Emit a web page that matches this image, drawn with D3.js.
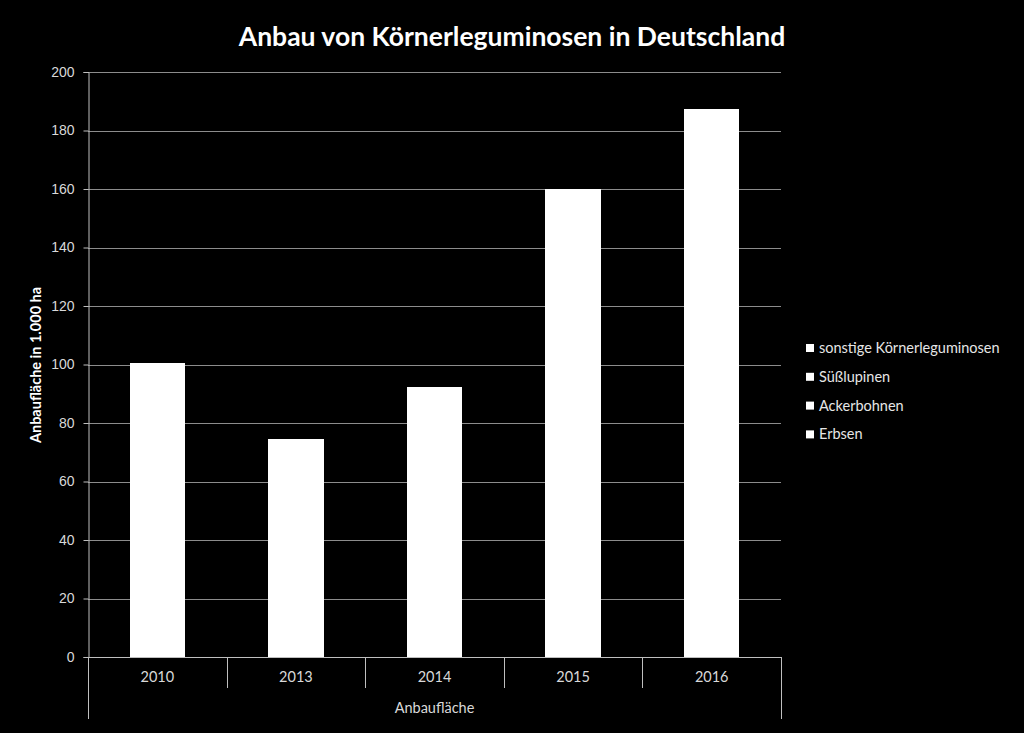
<!DOCTYPE html>
<html><head><meta charset="utf-8">
<script src="https://cdn.jsdelivr.net/npm/d3@7"></script>
<style>html,body{margin:0;padding:0;background:#000;}svg{display:block;font-family:Lato,"Open Sans",sans-serif;}</style>
</head><body>
<script>
const years = ["2010","2013","2014","2015","2016"];
const seriesNames = ["Erbsen","Ackerbohnen","Süßlupinen","sonstige Körnerleguminosen"];
const erbsen = [57.4, 37.6, 44.3, 78.2, 93.4];
const ackerbohnen = [16.6, 16.6, 20.9, 37.9, 45.9];
const suesslupinen = [22.1, 17.4, 22.5, 26.0, 31.0];
const sonstige = [4.4, 2.9, 4.6, 18.0, 16.9];
const yTicks = [0,20,40,60,80,100,120,140,160,180,200];
const legendOrder = ["sonstige Körnerleguminosen","Süßlupinen","Ackerbohnen","Erbsen"];

const W=1024,H=733;
const svg=d3.select("body").append("svg").attr("width",W).attr("height",H);
svg.append("rect").attr("width",W).attr("height",H).attr("fill","#000");

const L=88,R=781,T=72,B=657;
const x=d3.scaleBand().domain(years).range([L,R]).paddingInner(0.6).paddingOuter(0.3);
const y=d3.scaleLinear().domain([0,200]).range([B,T]);

const table=years.map((yr,i)=>({year:yr,"Erbsen":erbsen[i],"Ackerbohnen":ackerbohnen[i],"Süßlupinen":suesslupinen[i],"sonstige Körnerleguminosen":sonstige[i]}));
const stack=d3.stack().keys(seriesNames)(table);

// gridlines
svg.append("g").selectAll("line").data(yTicks.filter(d=>d>0)).join("line")
  .attr("x1",L).attr("x2",R).attr("y1",d=>Math.round(y(d))+0.5).attr("y2",d=>Math.round(y(d))+0.5)
  .attr("stroke","#8c8c8c").attr("stroke-width",1);

// bars
svg.append("g").attr("shape-rendering","crispEdges").selectAll("g").data(stack).join("g").attr("fill","#fff")
  .selectAll("rect").data(d=>d).join("rect")
  .attr("x",d=>x(d.data.year)).attr("width",x.bandwidth())
  .attr("y",d=>y(d[1])).attr("height",d=>y(d[0])-y(d[1])+(d[0]>0?1.5:0));

// y axis
const ya=svg.append("g").attr("transform",`translate(${L+0.5},0)`)
  .call(d3.axisLeft(y).tickValues(yTicks).tickSize(5).tickPadding(9));
ya.select(".domain").attr("stroke","#bfbfbf");
ya.selectAll(".tick line").attr("stroke","#bfbfbf");
ya.selectAll(".tick text").attr("fill","#d9d9d9").attr("font-size","14px");

// x baseline
svg.append("line").attr("x1",L).attr("x2",R).attr("y1",B+0.5).attr("y2",B+0.5).attr("stroke","#bfbfbf");
// category separators
const step=(R-L)/years.length;
const seps=d3.range(1,years.length).map(i=>L+i*step);
svg.append("g").selectAll("line").data(seps).join("line")
  .attr("x1",d=>Math.round(d)+0.5).attr("x2",d=>Math.round(d)+0.5).attr("y1",B).attr("y2",688)
  .attr("stroke","#bfbfbf");
svg.append("g").selectAll("line").data([L,R]).join("line")
  .attr("x1",d=>d+0.5).attr("x2",d=>d+0.5).attr("y1",B).attr("y2",719)
  .attr("stroke","#bfbfbf");
// category labels
svg.append("g").selectAll("text").data(years).join("text")
  .attr("x",(d,i)=>L+step*(i+0.5)).attr("y",682).attr("text-anchor","middle")
  .attr("fill","#d9d9d9").attr("font-size","14.5px").text(d=>d);
svg.append("text").attr("x",(L+R)/2).attr("y",713).attr("text-anchor","middle")
  .attr("fill","#d9d9d9").attr("font-size","14.5px").text("Anbaufläche");

// title
svg.append("text").attr("x",512).attr("y",46).attr("text-anchor","middle")
  .attr("fill","#fff").attr("font-size","26.5px").attr("font-weight","bold")
  .text("Anbau von Körnerleguminosen in Deutschland");

// y label
svg.append("text").attr("transform","translate(41,365) rotate(-90)").attr("text-anchor","middle")
  .attr("fill","#fff").attr("font-size","14.5px").attr("font-weight","bold")
  .text("Anbaufläche in 1.000 ha");

// legend
const lg=svg.append("g").selectAll("g").data(legendOrder).join("g")
  .attr("transform",(d,i)=>`translate(806,${348+i*28.8})`);
lg.append("rect").attr("x",0).attr("y",-4).attr("width",8).attr("height",8).attr("fill","#fff");
lg.append("text").attr("x",13).attr("y",5).attr("fill","#e6e6e6").attr("font-size","14.5px").text(d=>d);
</script>
</body></html>
